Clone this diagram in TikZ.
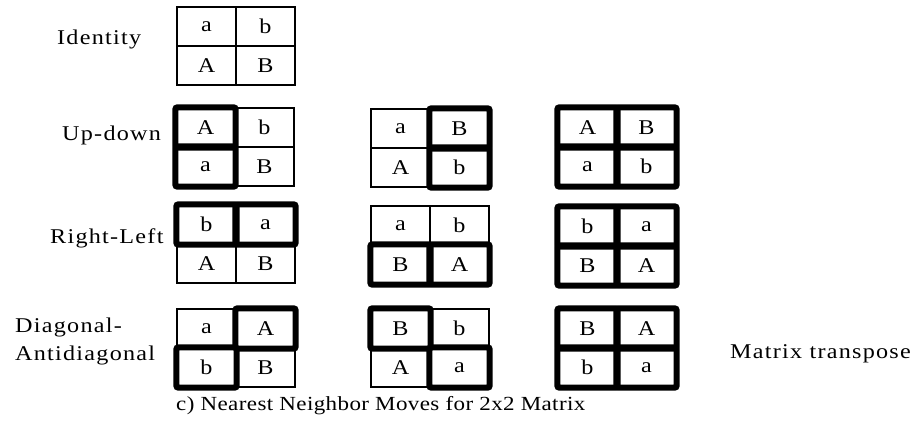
\documentclass[tikz,border=0pt]{standalone}
\usepackage{fontspec}
\setmainfont{Liberation Serif}[FakeStretch=1.15]
\newfontfamily\spaced{Liberation Serif}[FakeStretch=1.15, LetterSpace=6]
\newfontfamily\capspaced{Liberation Serif}[FakeStretch=1.15, LetterSpace=2]

\tikzset{
  cell/.style={draw, line width=1.3pt, minimum width=59pt, minimum height=39pt,
               inner sep=0pt, font=\fontsize{21}{24}\selectfont},
  heavy/.style={line width=6pt, rounded corners=2pt},
  rowlabel/.style={anchor=base west, inner sep=0pt, font=\fontsize{21}{24}\spaced},
}

% 2x2 matrix: #1 name, (#2,#3) top-left corner, cells tl tr bl br
\newcommand\mgrid[7]{%
  \node[cell] (#1-tl) at ({#2+29.5},{#3+19.5}) {#4};
  \node[cell] (#1-tr) at ({#2+88.5},{#3+19.5}) {#5};
  \node[cell] (#1-bl) at ({#2+29.5},{#3+58.5}) {#6};
  \node[cell] (#1-br) at ({#2+88.5},{#3+58.5}) {#7};
}
% heavy frame around one cell
\newcommand\hcell[1]{\draw[heavy] (#1.north west) rectangle (#1.south east);}

\begin{document}
\begin{tikzpicture}[x=1pt,y=-1pt]
\useasboundingbox (0,0) rectangle (921,435);

% row labels
\node[rowlabel] (lid) at (57,45) {Identity};
\node[rowlabel] (lud) at (62,141) {Up-down};
\node[rowlabel] (lrl) at (50,244) {Right-Left};
\node[rowlabel] (ld1) at (15,333) {Diagonal-};
\node[rowlabel] (ld2) at (15,361) {Antidiagonal};
\node[rowlabel] (ltr) at (730,359) {Matrix transpose};

% identity
\mgrid{id}{177}{7}{a}{b}{A}{B}

% up-down
\mgrid{ud1}{176}{108}{A}{b}{a}{B}
\mgrid{ud2}{371}{109}{a}{B}{A}{b}
\mgrid{ud3}{558}{108}{A}{B}{a}{b}
\hcell{ud1-tl}\hcell{ud1-bl}
\hcell{ud2-tr}\hcell{ud2-br}
\hcell{ud3-tl}\hcell{ud3-tr}\hcell{ud3-bl}\hcell{ud3-br}

% right-left
\mgrid{rl1}{177}{205}{b}{a}{A}{B}
\mgrid{rl2}{371}{206}{a}{b}{B}{A}
\mgrid{rl3}{558}{207}{b}{a}{B}{A}
\hcell{rl1-tl}\hcell{rl1-tr}
\hcell{rl2-bl}\hcell{rl2-br}
\hcell{rl3-tl}\hcell{rl3-tr}\hcell{rl3-bl}\hcell{rl3-br}

% diagonal-antidiagonal
\mgrid{dg1}{177}{309}{a}{A}{b}{B}
\mgrid{dg2}{371}{309}{B}{b}{A}{a}
\mgrid{dg3}{558}{309}{B}{A}{b}{a}
\hcell{dg1-tr}\hcell{dg1-bl}
\hcell{dg2-tl}\hcell{dg2-br}
\hcell{dg3-tl}\hcell{dg3-tr}\hcell{dg3-bl}\hcell{dg3-br}

% caption
\node[anchor=base west, inner sep=0pt, font=\fontsize{20}{24}\capspaced] (cap) at (176,410)
  {c) Nearest Neighbor Moves for 2x2 Matrix};
\end{tikzpicture}
\end{document}
